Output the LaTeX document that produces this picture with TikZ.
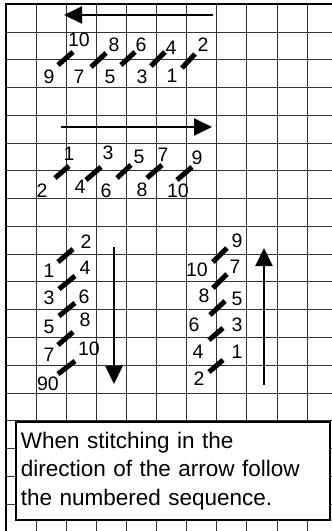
\documentclass[tikz,border=0pt]{standalone}
\usepackage{fontspec}
\setmainfont{Liberation Sans}
\usetikzlibrary{arrows.meta}
\tikzset{
  gridline/.style={draw=black!80,line width=0.9pt},
  frame/.style={draw=black,line width=2.4pt},
  stitch/.style={draw=black,line width=5pt,line cap=butt},
  num/.style={inner sep=0pt,font=\fontsize{19.5}{20}\selectfont},
  dirarrow/.style={draw=black,line width=2pt,-{Triangle[length=18pt,width=17pt]}},
  notebox/.style={draw=black,line width=1.6pt,fill=white,align=left,inner sep=0pt,
    text width=314pt,minimum height=98pt,font=\fontsize{22.5}{28.5}\selectfont}
}
\begin{document}
\begin{tikzpicture}[x=1pt,y=-1pt]
\useasboundingbox (0,0) rectangle (332,531);
\fill[white] (0,0) rectangle (332,531);
% grid
\foreach \k in {1,...,10} \draw[gridline] ({6.5+30.05*\k},4) -- ({6.5+30.05*\k},531);
\foreach \k in {0,...,17} \draw[gridline] (6,{32+27.77*\k}) -- (332,{32+27.77*\k});
\draw[frame] (6,531) -- (6,4) -- (332,4);
% ---- row 1: leftward
\coordinate (a1s) at (213,15); \coordinate (a1e) at (64,15);
\draw[dirarrow] (a1s) -- (a1e);
\foreach \xa/\ya/\xb/\yb in {182/68/195/54, 151/66/165/52, 121/65/135/52, 91/67/106/53, 58/65/73/52}
  \draw[stitch] (\xa,\ya) -- (\xb,\yb);
\foreach \t/\x/\y [count=\i] in {10/79/40, 8/114/45, 6/141/45, 4/171/48, 2/203/45,
   9/49/77, 7/79/77, 5/110/77, 3/142/77, 1/172/76}
  \node[num] (ra\i) at (\x,\y) {\t};
% ---- row 2: rightward
\coordinate (a2s) at (61,127); \coordinate (a2e) at (212,127);
\draw[dirarrow] (a2s) -- (a2e);
\foreach \xa/\ya/\xb/\yb in {55/178/69/166, 86/180/101/167, 117/178/131/165, 147/178/162/165, 177/180/192/167}
  \draw[stitch] (\xa,\ya) -- (\xb,\yb);
\foreach \t/\x/\y [count=\i] in {1/69/154, 3/108/153, 5/139/157, 7/163/155, 9/197/158,
   2/42/191, 4/80/187, 6/106/191, 8/142/190, 10/178/191}
  \node[num] (rb\i) at (\x,\y) {\t};
% ---- row 3 left: downward
\coordinate (a3s) at (114,247); \coordinate (a3e) at (114,384);
\draw[dirarrow] (a3s) -- (a3e);
\foreach \xa/\ya/\xb/\yb in {58/262/73/249, 59/289/75/276, 59/316/75/303, 58/345/73/332, 58/374/75/361}
  \draw[stitch] (\xa,\ya) -- (\xb,\yb);
\foreach \t/\x/\y [count=\i] in {2/86/242, 4/85/268, 6/84/297, 8/85/320, 10/89/349,
   1/49/271, 3/49/298, 5/49/327, 7/49/355, 90/48/384}
  \node[num] (rc\i) at (\x,\y) {\t};
% ---- row 3 right: upward
\coordinate (a4s) at (264,385); \coordinate (a4e) at (264,248);
\draw[dirarrow] (a4s) -- (a4e);
\foreach \xa/\ya/\xb/\yb in {213/262/227/248, 213/288/227/274, 210/315/225/301, 209/340/223/328, 209/372/223/360}
  \draw[stitch] (\xa,\ya) -- (\xb,\yb);
\foreach \t/\x/\y [count=\i] in {9/237/241, 7/235/267, 5/237/299, 3/237/325, 1/237/352,
   10/197/270, 8/204/296, 6/194/325, 4/198/352, 2/199/379}
  \node[num] (rd\i) at (\x,\y) {\t};
% ---- note box
\node[notebox,anchor=north west] (note) at (15,421)
  {\hspace*{5pt}When stitching in the\\\hspace*{5pt}direction of the arrow follow\\\hspace*{5pt}the numbered sequence.};
\end{tikzpicture}
\end{document}
